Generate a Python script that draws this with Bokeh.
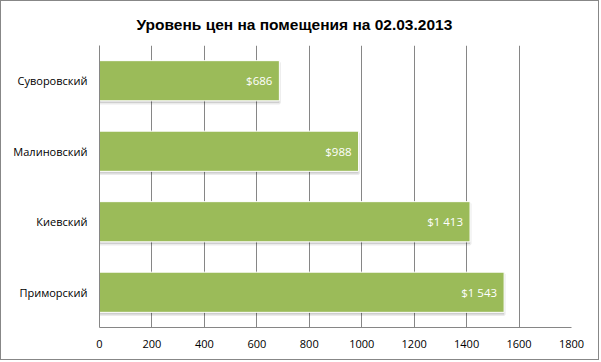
from bokeh.plotting import figure
from bokeh.models import ColumnDataSource, FactorRange, Range1d, FixedTicker, LabelSet
from bokeh.transform import dodge
from bokeh.core.properties import value
from bokeh.embed import file_html
from bokeh.resources import INLINE

# data
districts = ["Приморский", "Киевский", "Малиновский", "Суворовский"]
prices = [1543, 1413, 988, 686]
x_ticks = [0, 200, 400, 600, 800, 1000, 1200, 1400, 1600, 1800]
title_text = "Уровень цен на помещения на 02.03.2013"

labels = ["$" + f"{v:,}".replace(",", " ") for v in prices]
src = ColumnDataSource(dict(cat=districts, val=prices, lab=labels))

p = figure(width=599, height=360, output_backend="svg", toolbar_location=None,
           y_range=FactorRange(factors=districts, range_padding=0),
           x_range=Range1d(0, 1800),
           min_border_left=98, min_border_right=29, min_border_top=44, min_border_bottom=34)
p.styles = {"border": "1px solid #878787"}

p.title.text = title_text
p.title.text_font = "Liberation Sans"
p.title.text_font_size = "15.5px"
p.title.text_font_style = "bold"
p.title.text_color = "#000000"
p.title.align = "left"
p.title.offset = 37
p.title.standoff = 25

# soft shadow
p.hbar(y=dodge("cat", -0.03, range=p.y_range), right="val", left=0, height=0.57, source=src,
       fill_color="#000000", fill_alpha=0.12, line_color="#000000", line_alpha=0.08, line_width=3)

p.hbar(y="cat", right="val", left=0, height=0.57, source=src,
       fill_color="#9BBB59", line_color="white", line_width=1)

ls = LabelSet(x="val", y="cat", text="lab", source=src, x_offset=-7,
              text_align="right", text_baseline="middle", text_color="white",
              text_font=value("Open Sans"), text_font_size="11.5px")
p.add_layout(ls)

p.outline_line_color = None
p.xgrid.ticker = FixedTicker(ticks=x_ticks)
p.xgrid.grid_line_color = "#868686"
p.ygrid.grid_line_color = None

p.xaxis.ticker = FixedTicker(ticks=x_ticks)
for ax in (p.xaxis[0], p.yaxis[0]):
    ax.axis_line_color = "#868686"
    ax.major_tick_line_color = None
    ax.minor_tick_line_color = None
    ax.major_tick_out = 0
    ax.major_tick_in = 0
    ax.major_label_text_font = "Open Sans"
    ax.major_label_text_font_size = "11px"
    ax.major_label_text_color = "#000000"
p.xaxis.major_label_standoff = 12
p.yaxis.major_label_standoff = 12

open("out.html", "w").write(file_html(p, INLINE))
